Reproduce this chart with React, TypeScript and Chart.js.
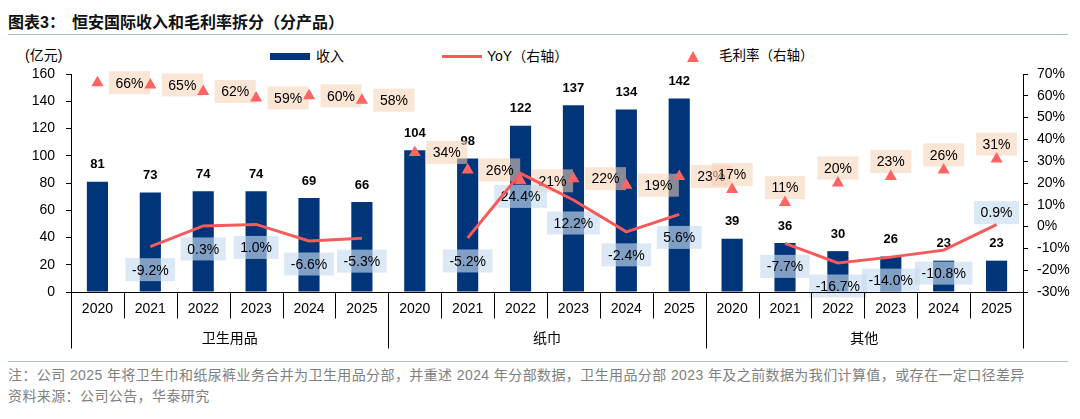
import { useEffect, useRef } from "react";
import { Chart, registerables } from "chart.js";

Chart.register(...registerables);

const years = ["2020", "2021", "2022", "2023", "2024", "2025"];
const segments = ["卫生用品", "纸巾", "其他"];

// 收入（亿元）：卫生用品 / 纸巾 / 其他
const revenue = [81, 73, 74, 74, 69, 66, 104, 98, 122, 137, 134, 142, 39, 36, 30, 26, 23, 23];
// YoY（%，右轴）
const yoy = [null, -9.2, 0.3, 1.0, -6.6, -5.3, null, -5.2, 24.4, 12.2, -2.4, 5.6, null, -7.7, -16.7, -14.0, -10.8, 0.9];
// 毛利率（%，右轴）
const grossMargin = [66, 65, 62, 59, 60, 58, 34, 26, 21, 22, 19, 23, 17, 11, 20, 23, 26, 31];

const labels = segments.flatMap(() => years);

const NUM_FONT = '"Liberation Sans", Arial, sans-serif';
const CJK_FONT = '"Liberation Sans", "Noto Sans CJK SC", sans-serif';
const BAR_COLOR = "#00357A";
const LINE_COLOR = "#F65A5A";
const TRI_COLOR = "#FF6464";

function drawBox(ctx: CanvasRenderingContext2D, text: string, cx: number, cy: number, fill: string) {
  ctx.font = `14px ${NUM_FONT}`;
  const w = ctx.measureText(text).width + 13;
  const h = 23;
  ctx.fillStyle = fill;
  ctx.fillRect(cx - w / 2, cy - h / 2, w, h);
  ctx.fillStyle = "#000";
  ctx.textAlign = "center";
  ctx.textBaseline = "middle";
  ctx.fillText(text, cx, cy + 1);
}

// value labels, drawn right after the bars so line and triangles sit on top
const labelPlugin = {
  id: "valueLabels",
  afterDatasetDraw(chart: any, args: any) {
    if (args.index !== 0) return;
    const { ctx } = chart;
    const bars = chart.getDatasetMeta(0).data;
    const yoyPts = chart.getDatasetMeta(1).data;
    const gmPts = chart.getDatasetMeta(2).data;
    ctx.save();
    bars.forEach((bar: any, i: number) => {
      ctx.font = `bold 13px ${NUM_FONT}`;
      ctx.fillStyle = "#000";
      ctx.textAlign = "center";
      ctx.textBaseline = "middle";
      ctx.fillText(String(revenue[i]), bar.x, bar.y - 17);
    });
    gmPts.forEach((pt: any, i: number) => {
      const g = Math.floor(i / years.length);
      const dx = g === 2 ? 0 : 32;
      const dy = g === 2 ? -15 : 0;
      drawBox(ctx, `${grossMargin[i]}%`, pt.x + dx, pt.y + dy, "rgba(248,207,178,0.55)");
    });
    yoyPts.forEach((pt: any, i: number) => {
      const v = yoy[i];
      if (v == null) return;
      const dy = i === yoy.length - 1 ? -12 : 23;
      drawBox(ctx, `${v.toFixed(1)}%`, pt.x, pt.y + dy, "rgba(199,219,239,0.64)");
    });
    ctx.restore();
  },
};

// two-level category axis: years + segment names with separators
const groupAxisPlugin = {
  id: "groupAxis",
  afterDraw(chart: any) {
    const { ctx, chartArea } = chart;
    const x = chart.scales.x;
    const n = labels.length;
    const w = (x.right - x.left) / n;
    const base = Math.round(chartArea.bottom) + 0.5;
    ctx.save();
    ctx.strokeStyle = "#000";
    ctx.lineWidth = 1;
    ctx.beginPath();
    ctx.moveTo(x.left, base);
    ctx.lineTo(x.right, base);
    for (let i = 0; i <= n; i++) {
      const px = Math.round(x.left + i * w) + 0.5;
      const len = i % years.length === 0 ? 56 : 26;
      ctx.moveTo(px, base);
      ctx.lineTo(px, base + len);
    }
    ctx.stroke();
    ctx.font = `14px ${CJK_FONT}`;
    ctx.fillStyle = "#000";
    ctx.textAlign = "center";
    ctx.textBaseline = "middle";
    segments.forEach((s, g) => {
      const cx = x.left + (g * years.length + years.length / 2) * w;
      ctx.fillText(s, cx, chartArea.bottom + 47);
    });
    ctx.restore();
  },
};

function RevenueChart() {
  const canvasRef = useRef<HTMLCanvasElement>(null);

  useEffect(() => {
    if (!canvasRef.current) return;
    const tickFont = { family: NUM_FONT, size: 14 };
    const chart = new Chart(canvasRef.current, {
      type: "bar",
      data: {
        labels,
        datasets: [
          {
            type: "bar",
            label: "收入",
            data: revenue,
            backgroundColor: BAR_COLOR,
            barPercentage: 0.4,
            categoryPercentage: 1,
            yAxisID: "y",
            order: 3,
          },
          {
            type: "line",
            label: "YoY（右轴）",
            data: yoy,
            borderColor: LINE_COLOR,
            borderWidth: 3,
            pointRadius: 0,
            tension: 0,
            spanGaps: false,
            yAxisID: "y1",
            order: 2,
          },
          {
            type: "line",
            label: "毛利率（右轴）",
            data: grossMargin,
            showLine: false,
            pointStyle: "triangle",
            pointRadius: 7,
            pointBackgroundColor: TRI_COLOR,
            pointBorderWidth: 0,
            yAxisID: "y1",
            order: 1,
          },
        ] as any,
      },
      options: {
        animation: false,
        responsive: true,
        maintainAspectRatio: false,
        layout: { padding: { top: 34, left: 0, right: 0, bottom: 0 } },
        plugins: {
          legend: { display: false },
          tooltip: { enabled: false },
        },
        scales: {
          x: {
            grid: { display: false, drawTicks: false },
            border: { display: false },
            ticks: { color: "#000", font: tickFont, padding: 9, maxRotation: 0, autoSkip: false },
            afterFit: (s: any) => {
              s.height = 68;
            },
          },
          y: {
            position: "left",
            min: 0,
            max: 160,
            ticks: { stepSize: 20, color: "#000", font: tickFont, padding: 11 },
            grid: { drawOnChartArea: false, tickLength: 5, color: "#000" },
            border: { color: "#000" },
            afterFit: (s: any) => {
              s.width = 71;
            },
          },
          y1: {
            position: "right",
            min: -30,
            max: 70,
            ticks: {
              stepSize: 10,
              color: "#000",
              font: tickFont,
              padding: 9,
              callback: (v: any) => `${v}%`,
            },
            grid: { drawOnChartArea: false, tickLength: 5, color: "#000" },
            border: { color: "#000" },
            afterFit: (s: any) => {
              s.width = 57;
            },
          },
        },
      } as any,
      plugins: [labelPlugin, groupAxisPlugin],
    });
    return () => chart.destroy();
  }, []);

  return (
    <div style={{ position: "absolute", left: 0, top: 40, width: 1080, height: 320 }}>
      <canvas ref={canvasRef} />
    </div>
  );
}

const textStyle = (left: number, cy: number, extra: any = {}) => ({
  position: "absolute" as const,
  left,
  top: cy - 10,
  lineHeight: "20px",
  fontSize: 14,
  fontFamily: CJK_FONT,
  color: "#000",
  whiteSpace: "nowrap" as const,
  ...extra,
});

export default function App() {
  return (
    <div style={{ position: "absolute", left: 0, top: 0, width: 1080, height: 419, background: "#fff", overflow: "hidden" }}>
      <div style={textStyle(8, 23, { fontSize: 16, fontWeight: 700, color: "#111" })}>
        图表3：<span style={{ marginLeft: 7 }}>恒安国际收入和毛利率拆分（分产品）</span>
      </div>
      <div style={{ position: "absolute", left: 8, top: 34, width: 1060, borderTop: "1.5px solid #A9BDD8" }} />

      <div style={textStyle(25, 55)}>(亿元)</div>
      <div style={{ position: "absolute", left: 270, top: 53, width: 40, height: 7, background: BAR_COLOR }} />
      <div style={textStyle(316, 56)}>收入</div>
      <div style={{ position: "absolute", left: 442, top: 55, width: 40, height: 3, background: LINE_COLOR }} />
      <div style={textStyle(487, 56)}>YoY（右轴）</div>
      <div
        style={{
          position: "absolute",
          left: 687,
          top: 51,
          width: 0,
          height: 0,
          borderLeft: "6.5px solid transparent",
          borderRight: "6.5px solid transparent",
          borderBottom: `11px solid ${TRI_COLOR}`,
        }}
      />
      <div style={textStyle(719, 56, { fontSize: 13.5 })}>毛利率（右轴）</div>

      <RevenueChart />

      <div style={{ position: "absolute", left: 8, top: 361, width: 1060, borderTop: "1.5px solid #A9BDD8" }} />
      <div style={textStyle(8, 375, { color: "#808080", letterSpacing: 0.4 })}>
        注：公司 2025 年将卫生巾和纸尿裤业务合并为卫生用品分部，并重述 2024 年分部数据，卫生用品分部 2023 年及之前数据为我们计算值，或存在一定口径差异
      </div>
      <div style={textStyle(8, 396, { color: "#808080", letterSpacing: 0.4 })}>资料来源：公司公告，华泰研究</div>
    </div>
  );
}
